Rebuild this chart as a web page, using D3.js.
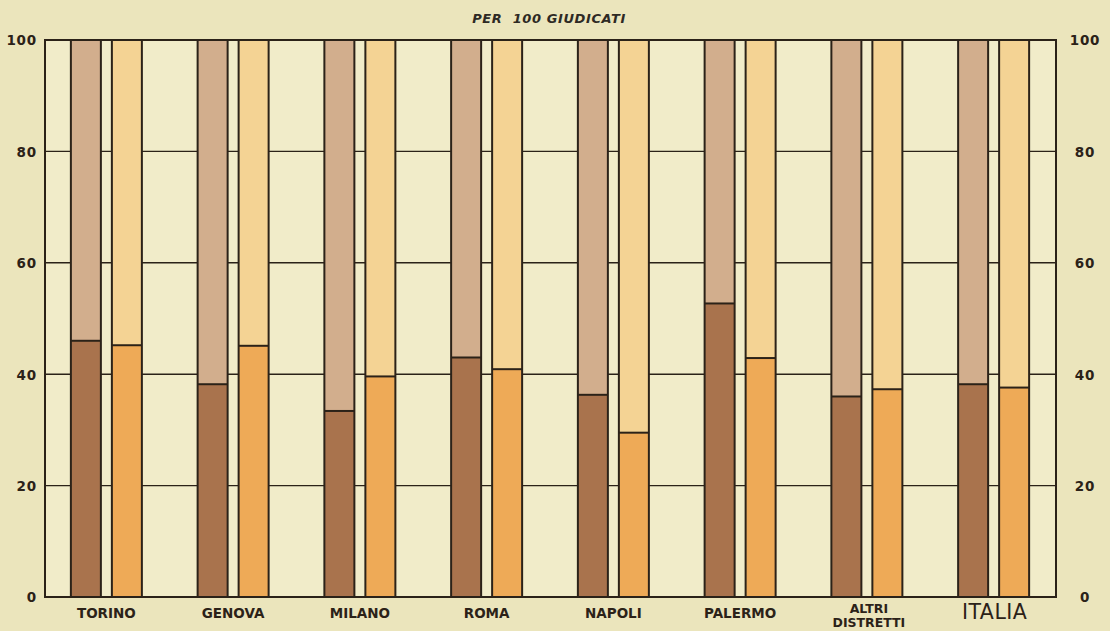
<!DOCTYPE html>
<html>
<head>
<meta charset="utf-8">
<script src="https://cdn.jsdelivr.net/npm/d3@7"></script>
<style>
  html, body { margin: 0; padding: 0; background: #ece6bf; }
  svg { display: block; }
</style>
</head>
<body>
<svg id="chart" width="1110" height="631"></svg>
<script>
// Districts (label lines) and shares per 100 people judged
const categories = ["TORINO", "GENOVA", "MILANO", "ROMA", "NAPOLI", "PALERMO", "ALTRI DISTRETTI", "ITALIA"];
const categoryLines = [["TORINO"], ["GENOVA"], ["MILANO"], ["ROMA"], ["NAPOLI"], ["PALERMO"], ["ALTRI", "DISTRETTI"], ["ITALIA"]];
const brownValues = [46.0, 38.2, 33.4, 43.0, 36.3, 52.7, 36.0, 38.2];
const orangeValues = [45.2, 45.1, 39.6, 40.9, 29.5, 42.9, 37.3, 37.6];
const yTicks = [0, 20, 40, 60, 80, 100];
const title = "PER  100 GIUDICATI";

const svg = d3.select("#chart");
const W = 1110, H = 631;
const frame = { left: 45, right: 1056, top: 40, bottom: 597 };
const ink = "#2b2218";

const colors = {
  brownLow: "#a9734d", brownHigh: "#d2ae8d",
  orangeLow: "#eeaa57", orangeHigh: "#f4d394"
};

svg.append("rect").attr("width", W).attr("height", H).attr("fill", "#ebe5bc");

const y = d3.scaleLinear().domain([0, 100]).range([frame.bottom, frame.top]);
const x0 = d3.scaleBand().domain(categories).range([43, 1057]).padding(0);
const step = x0.bandwidth();
const x1 = d3.scaleBand().domain(["brown", "orange"])
  .range([step / 2 - 41, step / 2 + 41])
  .paddingInner(11 / 41).paddingOuter(5.5 / 41);

// plot area
svg.append("rect")
  .attr("x", frame.left).attr("y", frame.top)
  .attr("width", frame.right - frame.left).attr("height", frame.bottom - frame.top)
  .attr("fill", "#f1ecc9");

// horizontal grid
svg.append("g").selectAll("line").data(yTicks.filter(t => t > 0 && t < 100)).join("line")
  .attr("x1", frame.left).attr("x2", frame.right)
  .attr("y1", d => y(d)).attr("y2", d => y(d))
  .attr("stroke", ink).attr("stroke-width", 1.4);

// bars
const groups = svg.append("g").selectAll("g").data(categories).join("g")
  .attr("transform", d => `translate(${x0(d)},0)`);

const series = [
  { key: "brown", values: brownValues, low: colors.brownLow, high: colors.brownHigh },
  { key: "orange", values: orangeValues, low: colors.orangeLow, high: colors.orangeHigh }
];

groups.each(function(cat, i) {
  const g = d3.select(this);
  series.forEach(s => {
    const v = s.values[i];
    const bx = x1(s.key), bw = x1.bandwidth();
    g.append("rect").attr("x", bx).attr("width", bw)
      .attr("y", y(100)).attr("height", y(v) - y(100))
      .attr("fill", s.high);
    g.append("rect").attr("x", bx).attr("width", bw)
      .attr("y", y(v)).attr("height", y(0) - y(v))
      .attr("fill", s.low);
    g.append("rect").attr("x", bx).attr("width", bw)
      .attr("y", y(100)).attr("height", y(0) - y(100))
      .attr("fill", "none").attr("stroke", ink).attr("stroke-width", 2);
    g.append("line").attr("x1", bx).attr("x2", bx + bw)
      .attr("y1", y(v)).attr("y2", y(v))
      .attr("stroke", ink).attr("stroke-width", 2);
  });
});

// frame
svg.append("rect")
  .attr("x", frame.left).attr("y", frame.top)
  .attr("width", frame.right - frame.left).attr("height", frame.bottom - frame.top)
  .attr("fill", "none").attr("stroke", ink).attr("stroke-width", 2);

// axes labels, left and right
const fontFam = "'DejaVu Sans', 'Liberation Sans', sans-serif";
const leftAxis = d3.axisLeft(y).tickValues(yTicks).tickSize(0).tickPadding(0).tickFormat(d3.format("d"));
const gl = svg.append("g").attr("transform", "translate(37,0)").call(leftAxis);
const rightAxis = d3.axisRight(y).tickValues(yTicks).tickSize(0).tickPadding(0).tickFormat(d3.format("d"));
const gr = svg.append("g").attr("transform", "translate(1085,0)").call(rightAxis);
[gl, gr].forEach(g => {
  g.select(".domain").remove();
  g.selectAll("text")
    .attr("font-family", fontFam).attr("font-weight", "bold")
    .attr("font-size", 13.5).attr("letter-spacing", 0.8)
    .attr("fill", ink).attr("dy", "0.36em");
});
gr.selectAll("text").attr("text-anchor", "middle");

// category labels
groups.each(function(cat, i) {
  const g = d3.select(this);
  const lines = categoryLines[i];
  const cx = step / 2;
  if (cat === "ITALIA") {
    g.append("text").attr("x", cx + 1).attr("y", 619)
      .attr("text-anchor", "middle")
      .attr("font-family", fontFam).attr("font-size", 20.5)
      .attr("letter-spacing", 0.5)
      .attr("fill", ink).text(lines[0]);
  } else if (lines.length === 1) {
    g.append("text").attr("x", cx).attr("y", 618)
      .attr("text-anchor", "middle")
      .attr("font-family", fontFam).attr("font-weight", "bold").attr("font-size", 13.5)
      .attr("fill", ink).text(lines[0]);
  } else {
    lines.forEach((ln, k) => {
      g.append("text").attr("x", cx + 2).attr("y", 613 + k * 14)
        .attr("text-anchor", "middle")
        .attr("font-family", fontFam).attr("font-weight", "bold").attr("font-size", 12.5)
        .attr("fill", ink).text(ln);
    });
  }
});

// title
svg.append("text")
  .attr("x", 549).attr("y", 23)
  .attr("text-anchor", "middle")
  .attr("font-family", fontFam).attr("font-weight", "bold").attr("font-style", "italic")
  .attr("font-size", 13).attr("letter-spacing", 0.6)
  .attr("fill", "#2e2a24")
  .style("white-space", "pre")
  .text(title);
</script>
</body>
</html>
